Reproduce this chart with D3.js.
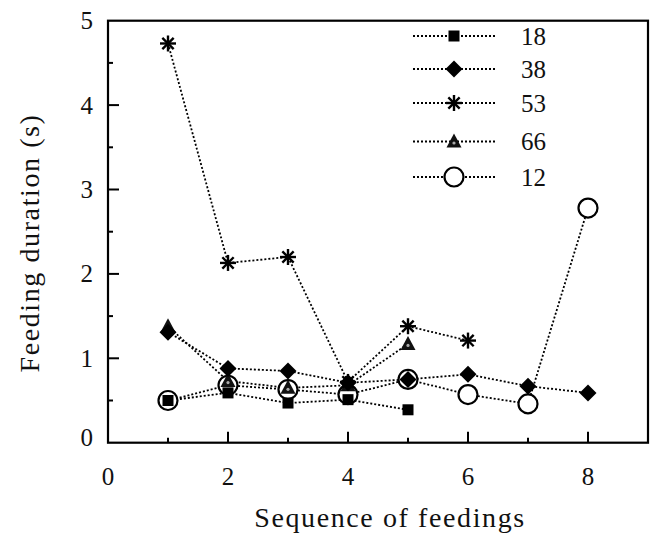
<!DOCTYPE html>
<html><head><meta charset="utf-8">
<script src="https://cdn.jsdelivr.net/npm/d3@7"></script>
<style>body{margin:0;background:#fff}svg{display:block}text{font-family:"Liberation Serif","Times New Roman",serif;fill:#111}</style>
</head><body><svg id="c" width="653" height="542"></svg>
<script>
const sequence = [1,2,3,4,5,6,7,8];
const s18 = [0.50,0.59,0.47,0.51,0.39];
const s38 = [1.31,0.88,0.85,0.71,0.75,0.81,0.67,0.59];
const s53 = [4.73,2.13,2.20,0.72,1.38,1.21];
const s66 = [1.38,0.73,0.65,0.68,1.17];
const s12 = [0.50,0.68,0.63,0.57,0.75,0.57,0.46,2.78];
const seriesNames = ["18","38","53","66","12"];
const seriesShapes = ["square","diamond","asterisk","triangle","circle"];
const seriesValues = [s18,s38,s53,s66,s12];
const xTicks = [0,2,4,6,8];
const yTicks = [0,1,2,3,4,5];

const svg = d3.select("#c");
const x = d3.scaleLinear().domain([0,9]).range([108,648]);
const y = d3.scaleLinear().domain([0,5]).range([442.7,20.7]);

// frame
svg.append("rect").attr("x",108).attr("y",20.7).attr("width",540).attr("height",422)
  .attr("fill","none").attr("stroke","#000").attr("stroke-width",2.2);

// x ticks (inward)
const xa = svg.append("g").attr("transform","translate(0,442.7)");
d3.range(1,9).forEach(v=>{
  xa.append("line").attr("x1",x(v)).attr("x2",x(v)).attr("y1",0).attr("y2",v%2===0?-11:-5)
    .attr("stroke","#000").attr("stroke-width",2);
});
xTicks.forEach(v=>{
  svg.append("text").attr("x",x(v)).attr("y",485).attr("text-anchor","middle")
    .attr("font-size",25).text(v);
});
// y ticks
d3.range(0.5,5,0.5).forEach(v=>{
  svg.append("line").attr("x1",108).attr("x2",108+(Number.isInteger(v)?11:5))
    .attr("y1",y(v)).attr("y2",y(v)).attr("stroke","#000").attr("stroke-width",2);
});
yTicks.forEach(v=>{
  svg.append("text").attr("x",93).attr("y",y(v)+ (v===0?3:8.5)).attr("text-anchor","end")
    .attr("font-size",25).text(v);
});

svg.append("text").attr("x",390).attr("y",527).attr("text-anchor","middle")
  .attr("font-size",28).attr("letter-spacing",1.6).text("Sequence of feedings");
svg.append("text").attr("transform","translate(39,243) rotate(-90)").attr("text-anchor","middle")
  .attr("font-size",28).attr("letter-spacing",1.6).text("Feeding duration (s)");

function drawMarker(g, shape, cx, cy){
  if(shape==="square"){
    g.append("rect").attr("x",cx-5.5).attr("y",cy-5.5).attr("width",11).attr("height",11).attr("fill","#000");
  } else if(shape==="diamond"){
    g.append("path").attr("d",`M${cx},${cy-8.5}L${cx+8.5},${cy}L${cx},${cy+8.5}L${cx-8.5},${cy}Z`).attr("fill","#000");
  } else if(shape==="asterisk"){
    const r=8;
    [0,45,90,135].forEach(a=>{
      const t=a*Math.PI/180;
      g.append("line").attr("x1",cx-r*Math.sin(t)).attr("y1",cy-r*Math.cos(t))
        .attr("x2",cx+r*Math.sin(t)).attr("y2",cy+r*Math.cos(t))
        .attr("stroke","#000").attr("stroke-width",2.4);
    });
  } else if(shape==="triangle"){
    g.append("path").attr("d",`M${cx},${cy-8}L${cx+7.5},${cy+6}L${cx-7.5},${cy+6}Z`).attr("fill","#111");
    g.append("circle").attr("cx",cx).attr("cy",cy+1.5).attr("r",1.6).attr("fill","#aaa");
  } else if(shape==="circle"){
    g.append("circle").attr("cx",cx).attr("cy",cy).attr("r",9.5).attr("fill","#fff")
      .attr("stroke","#000").attr("stroke-width",2.2);
  }
}

const line = d3.line().x(d=>x(d[0])).y(d=>y(d[1]));
seriesValues.forEach((vals,i)=>{
  const pts = vals.map((v,j)=>[sequence[j],v]);
  svg.append("path").attr("d",line(pts)).attr("fill","none").attr("stroke","#000")
    .attr("stroke-width",1.8).attr("stroke-dasharray","2,2");
});
const order = [4,0,3,1,2];
order.forEach(i=>{
  const g = svg.append("g");
  seriesValues[i].forEach((v,j)=>drawMarker(g, seriesShapes[i], x(sequence[j]), y(v)));
});

// legend
const legY = [36,69,103,141.5,177];
seriesNames.forEach((n,i)=>{
  const g = svg.append("g");
  g.append("line").attr("x1",413).attr("x2",495).attr("y1",legY[i]).attr("y2",legY[i])
    .attr("stroke","#000").attr("stroke-width",1.8).attr("stroke-dasharray","2,2");
  drawMarker(g, seriesShapes[i], 454, legY[i]);
  g.append("text").attr("x",521).attr("y",legY[i]+8.5).attr("font-size",25).text(n);
});
</script></body></html>
